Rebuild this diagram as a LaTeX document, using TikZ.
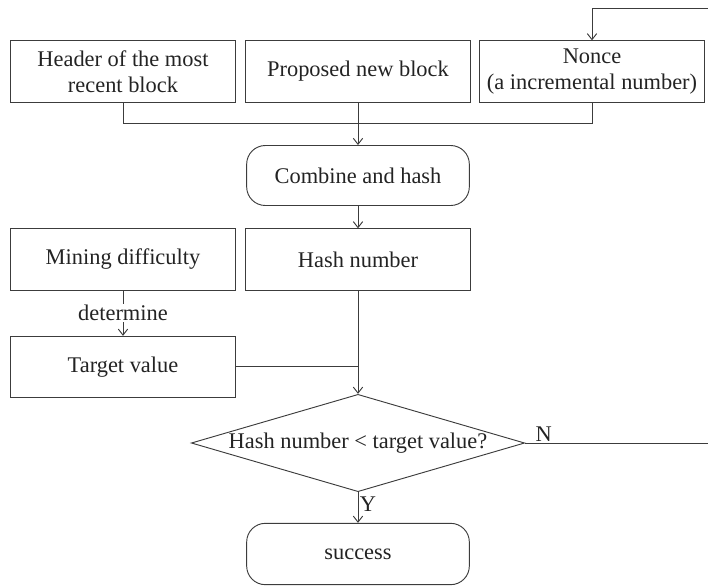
\documentclass[tikz,border=0pt]{standalone}
\usepackage{fontspec}
\setmainfont{Liberation Serif}
\usetikzlibrary{positioning, arrows.meta, shapes.geometric}
\definecolor{LineColor}{RGB}{60,60,60}
\definecolor{TextColor}{RGB}{35,35,35}
\tikzstyle{box} = [draw=LineColor, line width=0.7pt, text=TextColor, minimum width=169pt, minimum height=46pt, align=center, inner sep=2pt, font=\fontsize{16.8}{19.5}\selectfont]
\tikzstyle{roundbox} = [box, rounded corners=14pt, minimum width=167pt, minimum height=45pt]
\tikzstyle{decision} = [diamond, draw=LineColor, line width=0.7pt, text=TextColor, minimum width=250pt, minimum height=73pt, aspect=3.4, inner sep=0pt, font=\fontsize{16.8}{19.5}\selectfont]
\tikzstyle{arrow} = [line width=0.7pt, LineColor, -{Straight Barb[length=4.5pt, width=7pt]}]
\tikzstyle{line} = [line width=0.7pt, LineColor]
\tikzstyle{lbl} = [text=TextColor, font=\fontsize{16.8}{19.5}\selectfont, inner sep=1pt]

\begin{document}
\begin{tikzpicture}[x=0.75pt, y=-0.75pt]
    \useasboundingbox (0,0) rectangle (708,587);

    % Inputs
    \node[box] (header) at (123,71.5) {Header of the most\\recent block};
    \node[box] (proposed) at (358,71.5) {Proposed new block};
    \node[box] (nonce) at (592,71.5) {Nonce\\(a incremental number)};

    % Hashing
    \node[roundbox] (combine) at (358,175.5) {Combine and hash};
    \node[box] (hashnum) at (358,259.5) {Hash number};
    \node[box] (difficulty) at (123,259.5) {Mining difficulty};
    \node[box] (target) at (123,367) {Target value};

    % Comparison
    \node[decision] (compare) at (358,443) {Hash number < target value?};
    \node[roundbox, minimum height=46pt] (success) at (358,554) {success};

    % Helper points
    \coordinate (merge) at (358,123);
    \coordinate (join) at (358,366);
    \coordinate (loopA) at (711,443);
    \coordinate (loopB) at (711,8);
    \coordinate (loopC) at (592,8);

    % Merge inputs
    \draw[line] (header.south) |- (merge);
    \draw[line] (nonce.south) |- (merge);
    \draw[arrow] (proposed.south) -- (combine.north);
    \draw[arrow] (combine.south) -- (hashnum.north);

    % Difficulty to target
    \draw[arrow] (difficulty.south) -- node[lbl, fill=white] {determine} (target.north);

    % Into the decision
    \draw[line] (target.east |- join) -- (join);
    \draw[arrow] (hashnum.south) -- (compare.north);

    % Yes branch
    \draw[arrow] (compare.south) -- node[lbl, right, pos=0.4] {Y} (success.north);

    % No branch back to nonce
    \draw[line] (compare.east) -- node[lbl, above, pos=0.1] {N} (loopA) -- (loopB) -- (loopC);
    \draw[arrow] (loopC) -- (nonce.north);
\end{tikzpicture}
\end{document}
